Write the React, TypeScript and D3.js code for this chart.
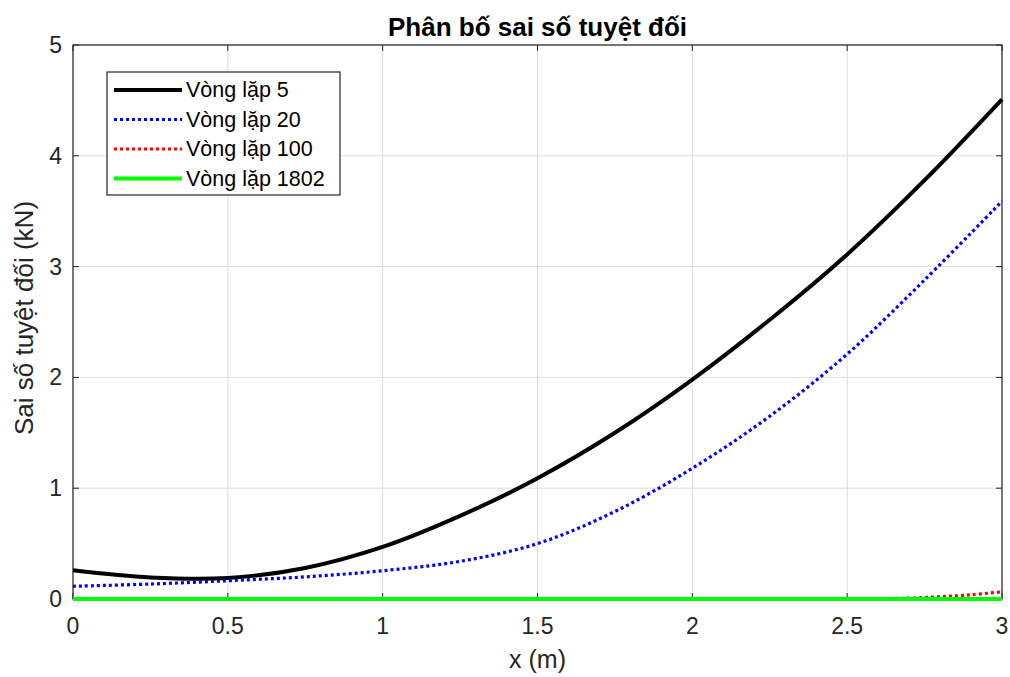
import * as d3 from "d3";
import { useEffect, useRef } from "react";

const xs = [0, 0.25, 0.5, 0.75, 1, 1.25, 1.5, 1.75, 2, 2.25, 2.5, 2.75, 3];
const iter5 = [0.26, 0.195, 0.19, 0.28, 0.47, 0.75, 1.09, 1.5, 1.98, 2.52, 3.11, 3.78, 4.51];
const iter20 = [0.115, 0.135, 0.165, 0.2, 0.255, 0.34, 0.5, 0.79, 1.18, 1.65, 2.21, 2.88, 3.59];
const redX = [0, 0.5, 1, 1.5, 2, 2.5, 2.6, 2.7, 2.8, 2.9, 3];
const iter100 = [0, 0, 0, 0, 0, 0.001, 0.003, 0.008, 0.02, 0.038, 0.065];
const iter1802 = [0, 0, 0, 0, 0, 0, 0, 0, 0, 0, 0, 0, 0];

const xTicks = [0, 0.5, 1, 1.5, 2, 2.5, 3];
const yTicks = [0, 1, 2, 3, 4, 5];
const seriesNames = ["Vòng lặp 5", "Vòng lặp 20", "Vòng lặp 100", "Vòng lặp 1802"];

export default function App() {
  const ref = useRef<SVGSVGElement>(null);

  useEffect(() => {
    if (!ref.current) return;
    const svg = d3.select(ref.current);
    svg.selectAll("*").remove();

    const width = 1010,
      height = 677,
      margin = { top: 45, right: 8, bottom: 78, left: 73 };
    const font = "Liberation Sans, Arial, sans-serif";
    const axisColor = "#262626";

    const x = d3.scaleLinear().domain([0, 3]).range([margin.left, width - margin.right]);
    const y = d3.scaleLinear().domain([0, 5]).range([height - margin.bottom, margin.top]);

    svg.append("rect").attr("width", width).attr("height", height).attr("fill", "#fff");

    // grid
    const grid = svg.append("g");
    xTicks.forEach((t) => {
      grid.append("line")
        .attr("x1", x(t)).attr("x2", x(t))
        .attr("y1", y(0)).attr("y2", y(5))
        .attr("stroke", "#dcdcdc").attr("stroke-width", 1);
    });
    yTicks.forEach((t) => {
      grid.append("line")
        .attr("x1", x(0)).attr("x2", x(3))
        .attr("y1", y(t)).attr("y2", y(t))
        .attr("stroke", "#dcdcdc").attr("stroke-width", 1);
    });

    // box
    svg.append("rect")
      .attr("x", x(0)).attr("y", y(5))
      .attr("width", x(3) - x(0)).attr("height", y(0) - y(5))
      .attr("fill", "none").attr("stroke", axisColor).attr("stroke-width", 1.2);

    // ticks (inside, on all sides)
    const tl = 6;
    xTicks.forEach((t) => {
      svg.append("line").attr("x1", x(t)).attr("x2", x(t))
        .attr("y1", y(0)).attr("y2", y(0) - tl).attr("stroke", axisColor);
      svg.append("line").attr("x1", x(t)).attr("x2", x(t))
        .attr("y1", y(5)).attr("y2", y(5) + tl).attr("stroke", axisColor);
      svg.append("text")
        .attr("x", x(t)).attr("y", y(0) + 35)
        .attr("text-anchor", "middle")
        .attr("font-family", font).attr("font-size", 23)
        .attr("fill", axisColor)
        .text(String(t));
    });
    yTicks.forEach((t) => {
      svg.append("line").attr("x1", x(0)).attr("x2", x(0) + tl)
        .attr("y1", y(t)).attr("y2", y(t)).attr("stroke", axisColor);
      svg.append("line").attr("x1", x(3)).attr("x2", x(3) - tl)
        .attr("y1", y(t)).attr("y2", y(t)).attr("stroke", axisColor);
      svg.append("text")
        .attr("x", x(0) - 11).attr("y", y(t) + 8)
        .attr("text-anchor", "end")
        .attr("font-family", font).attr("font-size", 23)
        .attr("fill", axisColor)
        .text(String(t));
    });

    const series = [
      { xv: xs, yv: iter5, color: "#000000", dash: null, w: 4 },
      { xv: xs, yv: iter20, color: "#0000ff", dash: "3,3", w: 3.2 },
      { xv: redX, yv: iter100, color: "#ff0000", dash: "3,3", w: 3.2 },
      { xv: xs, yv: iter1802, color: "#00ff00", dash: null, w: 4 },
    ];

    const line = d3.line<[number, number]>()
      .x((d) => x(d[0]))
      .y((d) => y(d[1]))
      .curve(d3.curveCatmullRom.alpha(0.5));

    const plot = svg.append("g");
    series.forEach((s) => {
      const pts = s.xv.map((v, i) => [v, s.yv[i]] as [number, number]);
      plot.append("path")
        .datum(pts)
        .attr("fill", "none")
        .attr("stroke", s.color)
        .attr("stroke-width", s.w)
        .attr("stroke-dasharray", s.dash)
        .attr("d", line);
    });

    // title
    svg.append("text")
      .attr("x", (x(0) + x(3)) / 2).attr("y", 36)
      .attr("text-anchor", "middle")
      .attr("font-family", font).attr("font-size", 26).attr("font-weight", "bold")
      .attr("fill", "#000")
      .text("Phân bố sai số tuyệt đối");

    // axis labels
    svg.append("text")
      .attr("x", (x(0) + x(3)) / 2).attr("y", 668)
      .attr("text-anchor", "middle")
      .attr("font-family", font).attr("font-size", 25)
      .attr("fill", axisColor)
      .text("x (m)");
    svg.append("text")
      .attr("transform", `translate(33, ${(y(0) + y(5)) / 2 - 4}) rotate(-90)`)
      .attr("text-anchor", "middle")
      .attr("font-family", font).attr("font-size", 26)
      .attr("fill", axisColor)
      .text("Sai số tuyệt đối (kN)");

    // legend
    const lg = svg.append("g").attr("transform", "translate(107, 72)");
    lg.append("rect")
      .attr("width", 233).attr("height", 123)
      .attr("fill", "#fff").attr("stroke", axisColor).attr("stroke-width", 1.2);
    series.forEach((s, i) => {
      const cy = 18 + i * 29.5;
      lg.append("line")
        .attr("x1", 7).attr("x2", 75)
        .attr("y1", cy).attr("y2", cy)
        .attr("stroke", s.color).attr("stroke-width", s.w)
        .attr("stroke-dasharray", s.dash);
      lg.append("text")
        .attr("x", 79).attr("y", cy + 7)
        .attr("font-family", font).attr("font-size", 21.5)
        .attr("fill", "#000")
        .text(seriesNames[i]);
    });
  }, []);

  return (
    <svg
      ref={ref}
      width={1010}
      height={677}
      style={{ position: "absolute", left: 0, top: 0, display: "block" }}
    />
  );
}
